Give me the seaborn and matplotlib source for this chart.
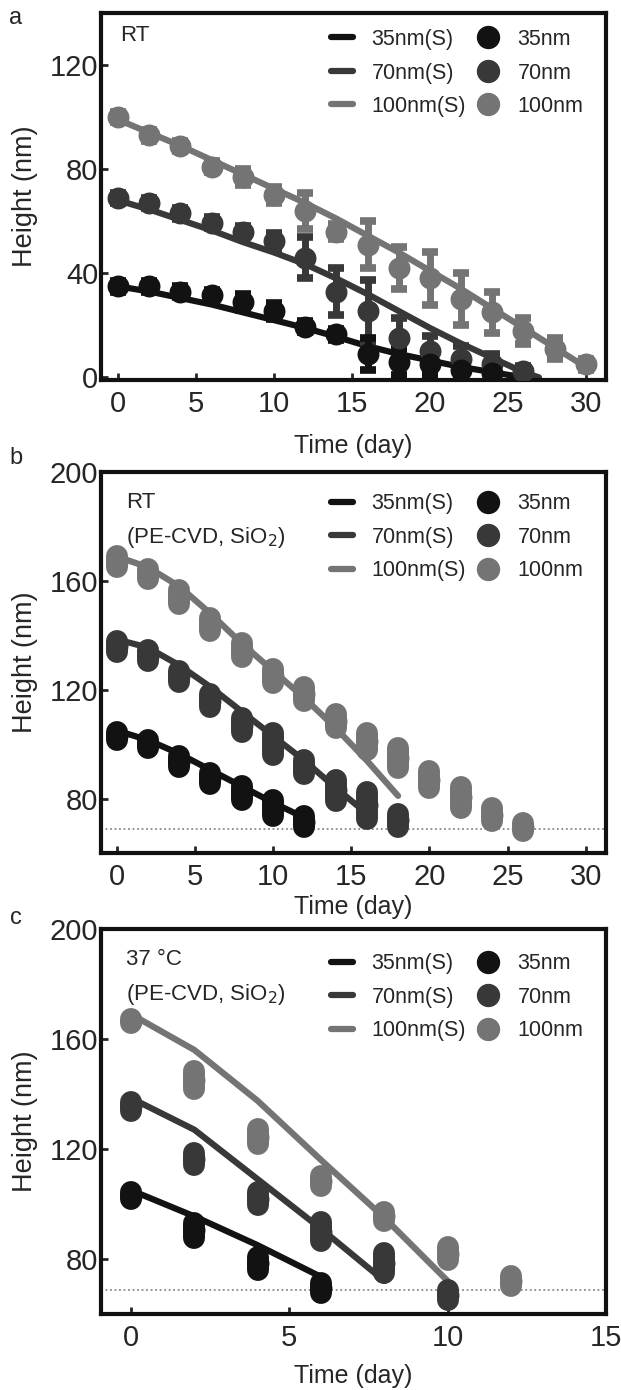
import matplotlib
matplotlib.use("Agg")
import matplotlib.pyplot as plt
import seaborn as sns
import pandas as pd
from matplotlib.lines import Line2D

sns.set_style("ticks")
plt.rcParams["font.family"] = ["Liberation Sans", "DejaVu Sans"]

sizes = ["35nm", "70nm", "100nm"]
colors = {"35nm": "#121212", "70nm": "#383838", "100nm": "#747474"}

# ---------------- panel a (RT) ----------------
a_days_35 = [0, 2, 4, 6, 8, 10, 12, 14, 16, 18, 20, 22, 24]
a_h_35 = [35, 35, 33, 31.5, 29, 25.5, 19.5, 16.5, 9, 6, 5, 3, 1.5]
a_e_35 = [2, 2, 2, 2, 3, 3, 2, 2, 6, 5, 4, 3, 1.5]
a_days_70 = [0, 2, 4, 6, 8, 10, 12, 14, 16, 18, 20, 22, 24, 26]
a_h_70 = [69, 67, 63, 59.5, 56, 52.5, 46, 33, 25.5, 15, 10, 7, 5, 2.5]
a_e_70 = [2, 2, 2, 2, 2, 3, 8, 9, 12, 8, 6, 5, 4, 2]
a_days_100 = [0, 2, 4, 6, 8, 10, 12, 14, 16, 18, 20, 22, 24, 26, 28, 30]
a_h_100 = [100, 93, 89, 81, 77, 70, 64, 56, 51, 42, 38, 30, 25, 18, 11, 5]
a_e_100 = [2, 2, 2, 2, 3, 3, 7, 3, 9, 8, 10, 10, 8, 5, 4, 2]
a_sx_35 = [0, 2, 4, 6, 8, 10, 12, 14, 16, 18, 20, 22, 24, 26]
a_s_35 = [35, 33, 30.5, 28, 25, 22, 19, 15.6, 12, 9, 6.5, 4, 2, 0]
a_sx_70 = [0, 2, 4, 6, 8, 10, 12, 14, 16, 18, 20, 22, 24, 26, 27]
a_s_70 = [68, 64.5, 60.5, 56.5, 52, 48, 43.5, 38, 32, 25.5, 19, 13, 7.5, 2, 0]
a_sx_100 = [0, 2, 4, 6, 8, 10, 12, 14, 16, 18, 20, 22, 24, 26, 28, 30]
a_s_100 = [99, 94, 89, 83.5, 78, 72.5, 67, 61, 54.5, 48, 41, 34, 26.5, 19, 11.5, 4]

# ---------------- panel b (RT, PE-CVD SiO2) ----------------
b_days_35 = [0, 2, 4, 6, 8, 10, 12]
b_h_35 = [103, 100, 93.5, 87.5, 82, 76.5, 71.5]
b_e_35 = [1.5, 1.5, 2, 2, 2.5, 3, 2]
b_days_70 = [0, 2, 4, 6, 8, 10, 12, 14, 16, 18]
b_h_70 = [136, 132.5, 125, 116, 107, 100, 91.5, 83, 77.5, 72]
b_e_70 = [2, 2, 2, 2.5, 2.5, 4, 2.5, 4, 5, 2.5]
b_days_100 = [0, 2, 4, 6, 8, 10, 12, 14, 16, 18, 20, 22, 24, 26]
b_h_100 = [167, 162.5, 154, 144, 134.5, 125, 118.5, 108.5, 101, 95, 87, 80.5, 74, 69.5]
b_e_100 = [2, 2, 2.5, 2.5, 2.5, 2.5, 2.5, 2.5, 3, 3.6, 3, 3.9, 2.4, 1.5]
b_sx_35 = [0, 2, 4, 6, 8, 10, 12]
b_s_35 = [105, 101.5, 96.5, 90.5, 84.5, 78.5, 73]
b_sx_70 = [0, 2, 4, 6, 8, 10, 12, 14, 16]
b_s_70 = [138.5, 135.5, 129, 121, 112, 103, 94, 84, 74.5]
b_sx_100 = [0, 2, 4, 6, 8, 10, 12, 14, 16, 18]
b_s_100 = [169, 165, 158, 148, 137, 127, 117, 106, 94, 81]

# ---------------- panel c (37 °C, PE-CVD SiO2) ----------------
c_days_35 = [0, 2, 4, 6]
c_h_35 = [103, 90.5, 78.5, 69.5]
c_e_35 = [1.2, 2.7, 2.4, 1.8]
c_days_70 = [0, 2, 4, 6, 8, 10]
c_h_70 = [135.5, 116.5, 102, 90, 78.5, 67]
c_e_70 = [1.5, 2.2, 2.4, 3.3, 3.6, 1.8]
c_days_100 = [0, 2, 4, 6, 8, 10, 12]
c_h_100 = [166.5, 145, 124.5, 108.5, 95.5, 82, 72]
c_e_100 = [0.6, 3.3, 2.7, 1.8, 1.5, 2.4, 1.8]
c_sx_35 = [0, 2, 4, 6]
c_s_35 = [105, 95.5, 85, 73.5]
c_sx_70 = [0, 2, 4, 6, 8]
c_s_70 = [138.5, 127, 109, 91, 72]
c_sx_100 = [0, 2, 4, 6, 8, 10]
c_s_100 = [169, 156, 137.5, 116, 95, 72]

baseline = 68.7

MS = 15.8  # marker diameter in points


def frames(days, h, e, sx, s):
    pts = pd.concat([pd.DataFrame({"day": days[k], "height": h[k], "err": e[k], "size": k})
                     for k in sizes[::-1]], ignore_index=True)
    lns = pd.concat([pd.DataFrame({"day": sx[k], "height": s[k], "size": k})
                     for k in sizes[::-1]], ignore_index=True)
    return pts, lns


fig = plt.figure(figsize=(6.21, 13.9), dpi=100)
L, W = 101 / 621, 505 / 621
ax_a = fig.add_axes([L, 1 - 380 / 1390, W, 367 / 1390])
ax_b = fig.add_axes([L, 1 - 853 / 1390, W, 381 / 1390])
ax_c = fig.add_axes([L, 1 - 1314 / 1390, W, 385 / 1390])

panels = [
    (ax_a,
     frames({"35nm": a_days_35, "70nm": a_days_70, "100nm": a_days_100},
            {"35nm": a_h_35, "70nm": a_h_70, "100nm": a_h_100},
            {"35nm": a_e_35, "70nm": a_e_70, "100nm": a_e_100},
            {"35nm": a_sx_35, "70nm": a_sx_70, "100nm": a_sx_100},
            {"35nm": a_s_35, "70nm": a_s_70, "100nm": a_s_100}),
     (-1.1, 31.3), (-1, 140), [0, 5, 10, 15, 20, 25, 30], [0, 40, 80, 120],
     False, ["RT"], 0.8365, 12),
    (ax_b,
     frames({"35nm": b_days_35, "70nm": b_days_70, "100nm": b_days_100},
            {"35nm": b_h_35, "70nm": b_h_70, "100nm": b_h_100},
            {"35nm": b_e_35, "70nm": b_e_70, "100nm": b_e_100},
            {"35nm": b_sx_35, "70nm": b_sx_70, "100nm": b_sx_100},
            {"35nm": b_s_35, "70nm": b_s_70, "100nm": b_s_100}),
     (-1.0, 31.3), (60, 200), [0, 5, 10, 15, 20, 25, 30], [80, 120, 160, 200],
     True, ["RT", "(PE-CVD, SiO$_2$)"], 0.829, 3),
    (ax_c,
     frames({"35nm": c_days_35, "70nm": c_days_70, "100nm": c_days_100},
            {"35nm": c_h_35, "70nm": c_h_70, "100nm": c_h_100},
            {"35nm": c_e_35, "70nm": c_e_70, "100nm": c_e_100},
            {"35nm": c_sx_35, "70nm": c_sx_70, "100nm": c_sx_100},
            {"35nm": c_s_35, "70nm": c_s_70, "100nm": c_s_100}),
     (-0.95, 15.0), (60, 200), [0, 5, 10, 15], [80, 120, 160, 200],
     True, ["37 °C", "(PE-CVD, SiO$_2$)"], 0.823, 9),
]

for ax, (pts, lns), xlim, ylim, xt, yt, capsule, notes, legy, lpad in panels:
    if capsule:
        ax.axhline(baseline, ls=(0, (1, 1.5)), color="#8a8a8a", lw=1.3, zorder=1)
    sns.lineplot(data=lns, x="day", y="height", hue="size", palette=colors,
                 hue_order=sizes[::-1], linewidth=4.5, estimator=None, sort=False,
                 legend=False, ax=ax, zorder=2)
    for k in sizes[::-1]:
        sub = pts[pts["size"] == k]
        if capsule:
            eb = ax.errorbar(sub["day"], sub["height"], yerr=sub["err"], fmt="none",
                             ecolor=colors[k], elinewidth=MS, capsize=0, zorder=3)
            eb[2][0].set_capstyle("round")
        else:
            ax.errorbar(sub["day"], sub["height"], yerr=sub["err"], fmt="none",
                        ecolor=colors[k], elinewidth=5, capsize=5.5, capthick=5.5, zorder=3)
        sns.scatterplot(data=sub, x="day", y="height", color=colors[k], s=MS ** 2,
                        linewidth=0, legend=False, ax=ax, zorder=4)
    ax.set_xlim(*xlim)
    ax.set_ylim(*ylim)
    ax.set_xticks(xt)
    ax.set_yticks(yt)
    ax.tick_params(direction="in", length=5, width=2, top=False, right=False,
                   labelsize=21, labelfontfamily="Liberation Sans")
    ax.tick_params(axis="y", pad=2)
    ax.tick_params(axis="x", pad=7)
    for sp in ax.spines.values():
        sp.set_linewidth(3)
        sp.set_color("#111111")
    ax.set_xlabel("Time (day)", fontsize=18, labelpad=lpad)
    ax.set_ylabel("Height (nm)", fontsize=19.5)
    ax.yaxis.set_label_coords(-0.125, 0.5)
    for i, t in enumerate(notes):
        ax.text(0.05 if capsule else 0.038, (0.921 if capsule else 0.94) - i * 0.092, t,
                transform=ax.transAxes, ha="left", va="center", fontsize=16)
    handles = [Line2D([], [], color=colors[k], lw=4.5, label=f"{k}(S)") for k in sizes]
    handles += [Line2D([], [], ls="none", marker="o", ms=MS, color=colors[k], label=k)
                for k in sizes]
    ax.legend(handles=handles, ncol=2, loc="center", bbox_to_anchor=(0.705, legy),
              frameon=False, fontsize=15.5, handlelength=1.05, handletextpad=0.85,
              columnspacing=0.5, labelspacing=0.58, borderpad=0, borderaxespad=0)

for lab, y in [("a", 18), ("b", 458), ("c", 918)]:
    fig.text(16 / 621, 1 - y / 1390, lab, ha="center", va="center", fontsize=17)

fig.savefig("out.png", dpi=100)
